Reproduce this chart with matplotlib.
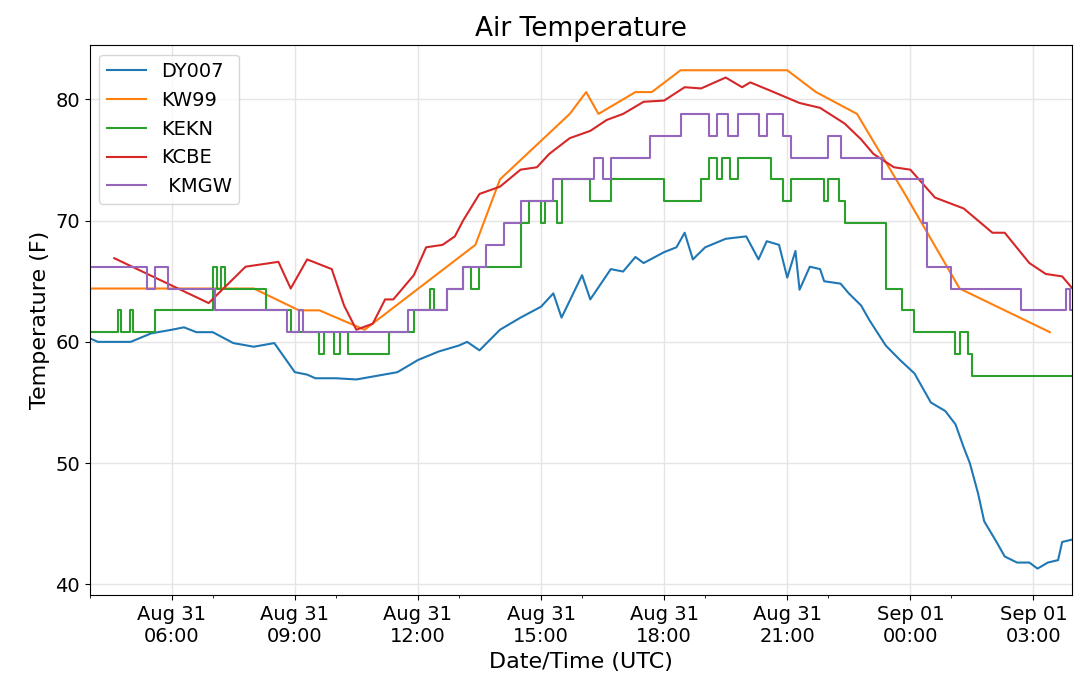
import numpy as np
import matplotlib
matplotlib.use("Agg")
from matplotlib import pyplot as plt
import matplotlib.dates as mdates

# Hours after Aug 31 00:00 UTC, temperatures in F
dy_t = [4.0, 4.2, 5.0, 5.5, 6.0, 6.3, 6.6, 7.0, 7.5, 8.0, 8.5, 9.0, 9.3, 9.5, 10.0, 10.5, 11.0, 11.5, 12.0,
        12.5, 13.0, 13.2, 13.5, 14.0, 14.5, 15.0, 15.3, 15.5, 16.0, 16.2, 16.7, 17.0, 17.3, 17.5, 18.0, 18.3,
        18.5, 18.7, 19.0, 19.5, 20.0, 20.3, 20.5, 20.8, 21.0, 21.2, 21.3, 21.55, 21.8, 21.9, 22.3, 22.5, 22.8,
        23.0, 23.4, 23.75, 24.1, 24.5, 24.85, 25.1, 25.3, 25.45, 25.65, 25.8, 26.1, 26.3, 26.6, 26.9, 27.1,
        27.35, 27.6, 27.7, 27.95]
dy_v = [60.3, 60.0, 60.0, 60.7, 61.0, 61.2, 60.8, 60.8, 59.9, 59.6, 59.9, 57.5, 57.3, 57.0, 57.0, 56.9, 57.2,
        57.5, 58.5, 59.2, 59.7, 60.0, 59.3, 61.0, 62.0, 62.9, 64.0, 62.0, 65.5, 63.5, 66.0, 65.8, 67.0, 66.5,
        67.4, 67.8, 69.0, 66.8, 67.8, 68.5, 68.7, 66.8, 68.3, 68.0, 65.3, 67.5, 64.3, 66.2, 66.0, 65.0, 64.8,
        64.0, 63.0, 61.8, 59.7, 58.5, 57.4, 55.0, 54.3, 53.2, 51.3, 50.0, 47.5, 45.2, 43.5, 42.3, 41.8, 41.8,
        41.3, 41.8, 42.0, 43.5, 43.7]

kw_t = [4.0, 8.0, 9.1, 9.6, 10.7, 13.4, 14.0, 15.7, 16.1, 16.4, 17.3, 17.7, 18.4, 21.0, 21.7, 22.7, 23.9,
        25.2, 27.4]
kw_v = [64.4, 64.4, 62.6, 62.6, 61.0, 68.0, 73.4, 78.8, 80.6, 78.8, 80.6, 80.6, 82.4, 82.4, 80.6, 78.8,
        72.0, 64.4, 60.8]

ek_t = [4.0, 4.68, 4.76, 4.98, 5.05, 5.6, 7.0, 7.1, 7.2, 7.3, 8.3, 8.9, 9.6, 9.7, 9.95, 10.1, 10.3, 11.3,
        11.9, 12.3, 12.4, 12.7, 13.1, 13.3, 13.5, 14.5, 14.7, 15.0, 15.1, 15.4, 15.5, 16.2, 16.7, 18.0, 18.9,
        19.1, 19.3, 19.4, 19.6, 19.8, 20.6, 20.9, 21.1, 21.9, 22.0, 22.25, 22.4, 23.4, 23.8, 24.1, 25.1, 25.2,
        25.4, 25.5, 27.95]
ek_v = [60.8, 62.6, 60.8, 62.6, 60.8, 62.6, 66.2, 64.4, 66.2, 64.4, 62.6, 60.8, 59.0, 60.8, 59.0, 60.8,
        59.0, 60.8, 62.6, 64.4, 62.6, 64.4, 66.2, 64.4, 66.2, 69.8, 71.6, 69.8, 71.6, 69.8, 73.4, 71.6, 73.4,
        71.6, 73.4, 75.2, 73.4, 75.2, 73.4, 75.2, 73.4, 71.6, 73.4, 71.6, 73.4, 71.6, 69.8, 64.4, 62.6, 60.8,
        59.0, 60.8, 59.0, 57.2, 57.2]

cb_t = [4.6, 6.9, 7.8, 8.6, 8.9, 9.3, 9.9, 10.2, 10.5, 10.9, 11.2, 11.4, 11.9, 12.2, 12.6, 12.9, 13.1, 13.5,
        14.0, 14.5, 14.9, 15.2, 15.7, 16.2, 16.6, 17.0, 17.5, 18.0, 18.5, 18.9, 19.5, 19.9, 20.1, 20.6, 21.3,
        21.8, 22.4, 22.8, 23.1, 23.6, 24.0, 24.6, 25.3, 26.0, 26.3, 26.9, 27.3, 27.7, 27.95]
cb_v = [66.9, 63.2, 66.2, 66.6, 64.4, 66.8, 66.0, 63.0, 61.0, 61.5, 63.5, 63.5, 65.5, 67.8, 68.0, 68.7, 70.0,
        72.2, 72.8, 74.2, 74.4, 75.5, 76.8, 77.4, 78.3, 78.8, 79.8, 79.9, 81.0, 80.9, 81.8, 81.0, 81.4, 80.7,
        79.7, 79.3, 78.0, 76.7, 75.5, 74.4, 74.2, 71.9, 71.0, 69.0, 69.0, 66.5, 65.6, 65.4, 64.4]

mg_t = [4.0, 5.4, 5.6, 5.9, 7.05, 8.8, 9.1, 9.2, 11.75, 12.7, 13.1, 13.65, 14.1, 14.5, 15.3, 16.3, 16.5,
        16.7, 17.65, 18.4, 19.1, 19.3, 19.55, 19.8, 20.3, 20.5, 20.9, 21.1, 22.0, 22.3, 23.3, 24.3, 24.4,
        25.0, 26.7, 27.8, 27.9, 27.95]
mg_v = [66.2, 64.4, 66.2, 64.4, 62.6, 60.8, 62.6, 60.8, 62.6, 64.4, 66.2, 68.0, 69.8, 71.6, 73.4, 75.2,
        73.4, 75.2, 77.0, 78.8, 77.0, 78.8, 77.0, 78.8, 77.0, 78.8, 77.0, 75.2, 77.0, 75.2, 73.4, 69.8, 66.2,
        64.4, 62.6, 64.4, 62.6, 62.6]

base = np.datetime64("2021-08-31T00:00")


def to_dt(hours):
    return base + (np.array(hours) * 3600).astype("timedelta64[s]")


fig = plt.figure(figsize=(10.8, 6.89), dpi=100)
ax = fig.add_axes([0.083, 0.136, 0.91, 0.799])
ax.plot(to_dt(dy_t), dy_v, c='#1f77b4', label='DY007', lw=1.5)
ax.plot(to_dt(kw_t), kw_v, c='#ff7f0e', label='KW99', lw=1.5)
ax.plot(to_dt(ek_t), ek_v, c='#2ca02c', label='KEKN', lw=1.5, drawstyle='steps-post')
ax.plot(to_dt(cb_t), cb_v, c='#d62728', label='KCBE', lw=1.5)
ax.plot(to_dt(mg_t), mg_v, c='#9467bd', label=' KMGW', lw=1.5, drawstyle='steps-post')

ax.set_xlim(to_dt([4.0])[0], to_dt([27.95])[0])
ax.set_ylim(39.1, 84.5)
ax.xaxis.set_major_locator(mdates.HourLocator(byhour=[0, 3, 6, 9, 12, 15, 18, 21]))
ax.xaxis.set_minor_locator(mdates.HourLocator(byhour=[1, 4, 7, 10, 13, 16, 19, 22]))
ax.xaxis.set_major_formatter(mdates.DateFormatter('%b %d\n%H:%M'))
for lab in ax.get_xticklabels():
    lab.set_horizontalalignment('center')
ax.grid(True, color='#e5e5e5', lw=1)
ax.set_title("Air Temperature", fontsize=19)
ax.set_xlabel("Date/Time (UTC)", fontsize=16)
ax.set_ylabel("Temperature (F)", fontsize=16)
ax.tick_params(axis='both', which='major', labelsize=14)
ax.legend(loc='upper left', fontsize=14)
fig.savefig("out.png")
